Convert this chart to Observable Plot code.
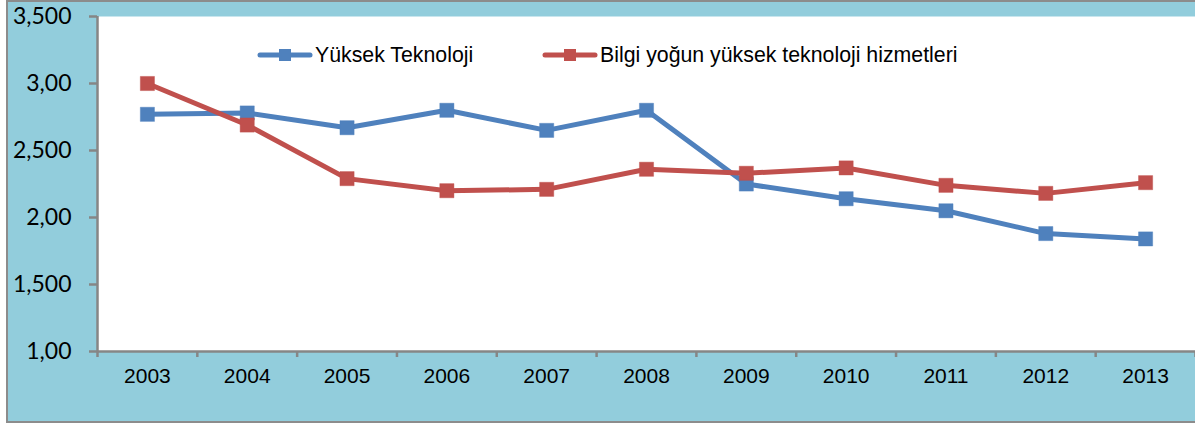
<!DOCTYPE html>
<html>
<head>
<meta charset="utf-8">
<script src="https://cdn.jsdelivr.net/npm/d3@7"></script>
<script src="https://cdn.jsdelivr.net/npm/@observablehq/plot@0.6"></script>
<style>
  html, body { margin: 0; padding: 0; background: #ffffff; }
  #wrap { position: relative; width: 1195px; height: 423px; overflow: hidden; }
  #bg { position: absolute; left: 6px; top: 0px; width: 1200px; height: 419px;
        background: #92CDDC; border: 2px solid #8c8c8c; border-right: none; }
  #chart { position: absolute; left: 0; top: 0; }
  #legend { position: absolute; top: 42px; left: 0; width: 1195px; height: 26px;
            font-family: "Liberation Sans", Arial, sans-serif; font-size: 21.3px; color: #000; }
  .item { position: absolute; top: 0; display: flex; align-items: center; height: 26px; }
  .item svg { margin-right: 2px; }
</style>
</head>
<body>
<div id="wrap">
  <div id="bg"></div>
  <div id="chart"></div>
  <div id="legend"></div>
</div>
<script>
const years = [2003, 2004, 2005, 2006, 2007, 2008, 2009, 2010, 2011, 2012, 2013];
const yuksekTeknoloji = [2.77, 2.78, 2.67, 2.80, 2.65, 2.80, 2.25, 2.14, 2.05, 1.88, 1.84];
const bilgiYogun = [3.00, 2.69, 2.29, 2.20, 2.21, 2.36, 2.33, 2.37, 2.24, 2.18, 2.26];
const yTicks = [1, 1.5, 2, 2.5, 3, 3.5];
const yTickLabels = ["1,00", "1,500", "2,00", "2,500", "3,00", "3,500"];
const seriesNames = ["Yüksek Teknoloji", "Bilgi yoğun yüksek teknoloji hizmetleri"];
const seriesColors = ["#4F81BD", "#C0504D"];

const data = [
  ...years.map((year, i) => ({year, value: yuksekTeknoloji[i], series: seriesNames[0]})),
  ...years.map((year, i) => ({year, value: bilgiYogun[i], series: seriesNames[1]}))
];
const boundaries = years.map(y => y - 0.5).concat([years[years.length - 1] + 0.5]);
const axisGray = "#868686";

const chart = Plot.plot({
  width: 1195,
  height: 423,
  marginLeft: 97,
  marginRight: 0,
  marginTop: 16,
  marginBottom: 72,
  style: {background: "transparent", color: "#000", overflow: "visible"},
  x: {domain: [boundaries[0], boundaries[boundaries.length - 1]]},
  y: {domain: [yTicks[0], yTicks[yTicks.length - 1]]},
  color: {domain: seriesNames, range: seriesColors},
  marks: [
    Plot.frame({fill: "white", stroke: null}),
    Plot.axisY({
      ticks: yTicks,
      tickFormat: d => yTickLabels[yTicks.indexOf(d)],
      tickSize: 8, tickPadding: 18,
      stroke: axisGray, strokeWidth: 2.5, strokeOpacity: 1,
      fontSize: 23, fontFamily: "Lato, 'Liberation Sans', sans-serif",
      fill: "#000", label: null
    }),
    Plot.axisX({
      ticks: boundaries, tickFormat: () => "",
      tickSize: 6, stroke: axisGray, strokeWidth: 2.5, strokeOpacity: 1, label: null
    }),
    Plot.axisX({
      ticks: years, tickFormat: d => String(d),
      tickSize: 0, tickPadding: 17,
      fontSize: 21, fontFamily: "'Liberation Sans', Arial, sans-serif",
      fill: "#000", label: null
    }),
    Plot.ruleY([yTicks[0]], {stroke: axisGray, strokeWidth: 2.5}),
    Plot.ruleX([boundaries[0]], {stroke: axisGray, strokeWidth: 2.5}),
    Plot.line(data, {x: "year", y: "value", z: "series", stroke: "series", strokeWidth: 5, strokeLinejoin: "round"}),
    Plot.dot(data, {x: "year", y: "value", fill: "series", symbol: "square", r: 8, stroke: "series", strokeOpacity: 0.4, strokeWidth: 1})
  ]
});
document.getElementById("chart").appendChild(chart);

// legend
const legend = document.getElementById("legend");
const legendLeft = [257, 542];
seriesNames.forEach((name, i) => {
  const item = document.createElement("div");
  item.className = "item";
  item.style.left = legendLeft[i] + "px";
  item.innerHTML =
    `<svg width="56" height="26"><line x1="3" y1="13" x2="53" y2="13" stroke="${seriesColors[i]}" stroke-width="5" stroke-linecap="round"/>` +
    `<rect x="22" y="7" width="12" height="12" fill="${seriesColors[i]}"/></svg>` +
    `<span>${name}</span>`;
  legend.appendChild(item);
});
</script>
</body>
</html>
